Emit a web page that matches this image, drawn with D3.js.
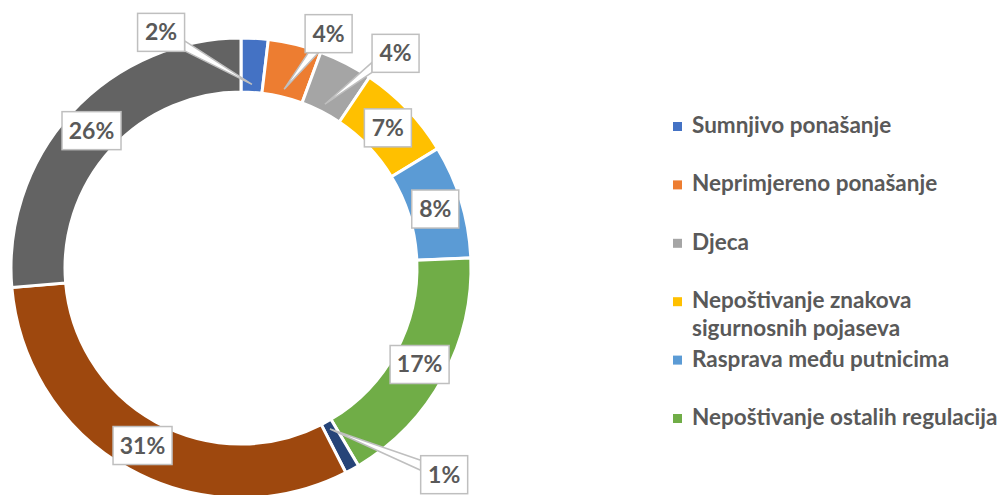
<!DOCTYPE html>
<meta charset="utf-8">
<style>
body { margin: 0; background: #fff; }
text { font-family: Lato, "Open Sans", sans-serif; font-weight: 700; fill: #595959; }
</style>
<svg width="1000" height="495"></svg>
<script src="https://d3js.org/d3.v7.min.js"></script>
<script>

// slice shares in percent (clockwise from 12 o'clock)
var values = [1.9, 3.75, 3.8, 6.9, 8.0, 17.2, 1.0, 31.25, 26.4];
var colors = ["#4472C4", "#ED7D31", "#A5A5A5", "#FFC000", "#5B9BD5",
              "#70AD47", "#264478", "#9E480E", "#636363"];
// only the first six legend entries are visible in the picture
var legendLabels = [
  ["Sumnjivo ponašanje"],
  ["Neprimjereno ponašanje"],
  ["Djeca"],
  ["Nepoštivanje znakova", "sigurnosnih pojaseva"],
  ["Rasprava među putnicima"],
  ["Nepoštivanje ostalih regulacija"]
];
// labels moved out of their slice (callouts), offset from the slice centroid
var calloutOffset = { 0: [-92, -33], 1: [40, -37], 2: [62, -34], 6: [105, 29] };

var svg = d3.select("svg");
var cx = 241, cy = 268, rOuter = 230, rInner = 176;

var pie = d3.pie().sort(null).value(function(d) { return d; });
var arc = d3.arc().innerRadius(rInner).outerRadius(rOuter);
var arcs = pie(values);

var g = svg.append("g").attr("transform", "translate(" + cx + "," + cy + ")");

g.selectAll("path.slice")
  .data(arcs)
  .enter().append("path")
    .attr("class", "slice")
    .attr("d", arc)
    .attr("fill", function(d, i) { return colors[i]; })
    .attr("stroke", "#fff")
    .attr("stroke-width", 3);

// labels
var lab = g.selectAll("g.lab")
  .data(arcs)
  .enter().append("g")
    .attr("class", "lab");

lab.each(function(d, i) {
  var sel = d3.select(this);
  var c = arc.centroid(d);
  var off = calloutOffset[i] || [0, 0];
  var lx = c[0] + off[0], ly = c[1] + off[1];
  var txt = Math.round(d.data) + "%";
  var w = txt.length > 2 ? 59 : 47, h = 38;
  var x0 = lx - w / 2, y0 = ly - h / 2;

  if (calloutOffset[i]) {
    var a = (d.startAngle + d.endAngle) / 2;
    var tr = 184;
    var tx = tr * Math.sin(a), ty = -tr * Math.cos(a);
    // where the line from box centre to target leaves the box
    var dx = tx - lx, dy = ty - ly;
    var sx = (w / 2) / Math.abs(dx || 1e-9), sy = (h / 2) / Math.abs(dy || 1e-9);
    var b1, b2, hw = 5;
    if (sx < sy) {
      var ex = lx + dx * sx, ey = ly + dy * sx;
      ey = Math.max(y0 + hw, Math.min(y0 + h - hw, ey));
      b1 = [ex, ey - hw]; b2 = [ex, ey + hw];
    } else {
      var ex2 = lx + dx * sy, ey2 = ly + dy * sy;
      ex2 = Math.max(x0 + hw, Math.min(x0 + w - hw, ex2));
      b1 = [ex2 - hw, ey2]; b2 = [ex2 + hw, ey2];
    }
    sel.append("path")
      .attr("d", "M" + b1 + "L" + [tx, ty] + "L" + b2 + "Z")
      .attr("fill", "#fff")
      .attr("stroke", "#BFBFBF")
      .attr("stroke-width", 1.5);
  }

  sel.append("rect")
    .attr("x", x0).attr("y", y0)
    .attr("width", w).attr("height", h)
    .attr("fill", "#fff")
    .attr("stroke", "#BFBFBF")
    .attr("stroke-width", 1.5);

  sel.append("text")
    .attr("x", lx).attr("y", ly + 8)
    .attr("text-anchor", "middle")
    .style("font-size", "23px")
    .text(txt);
});

// legend
var y = d3.scalePoint().domain(d3.range(legendLabels.length)).range([133, 133 + 58.4 * 5]);

var leg = svg.append("g").selectAll("g")
  .data(legendLabels)
  .enter().append("g")
    .attr("transform", function(d, i) { return "translate(673," + y(i) + ")"; });

leg.append("rect")
  .attr("x", 0).attr("y", -11)
  .attr("width", 9).attr("height", 9)
  .attr("fill", function(d, i) { return colors[i]; });

leg.append("text")
  .attr("x", 19)
  .style("font-size", "22.5px")
  .selectAll("tspan")
  .data(function(d) { return d; })
  .enter().append("tspan")
    .attr("x", 19)
    .attr("dy", function(d, j) { return j ? 28 : 0; })
    .text(function(d) { return d; });

</script>
